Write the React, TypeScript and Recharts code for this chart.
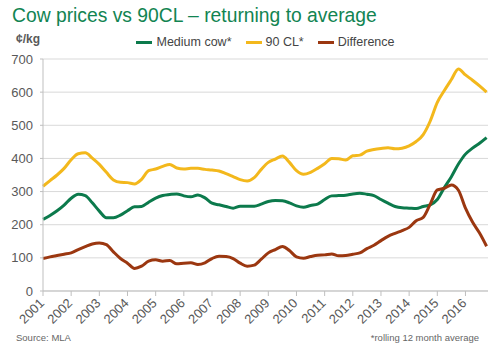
import { Legend, Line, LineChart, XAxis, YAxis, CartesianGrid } from "recharts";

// quarterly points (rolling 12 month averages, ¢/kg)
const periods = [
  2001, 2001.25, 2001.5, 2001.75, 2002, 2002.25, 2002.5, 2002.75,
  2003, 2003.25, 2003.5, 2003.75, 2004, 2004.25, 2004.5, 2004.75,
  2005, 2005.25, 2005.5, 2005.75, 2006, 2006.25, 2006.5, 2006.75,
  2007, 2007.25, 2007.5, 2007.75, 2008, 2008.25, 2008.5, 2008.75,
  2009, 2009.25, 2009.5, 2009.75, 2010, 2010.25, 2010.5, 2010.75,
  2011, 2011.25, 2011.5, 2011.75, 2012, 2012.25, 2012.5, 2012.75,
  2013, 2013.25, 2013.5, 2013.75, 2014, 2014.25, 2014.5, 2014.75,
  2015, 2015.25, 2015.5, 2015.75, 2016, 2016.25, 2016.5, 2016.75,
];

const mediumCow = [
  216, 228, 242, 259, 280, 292, 288, 266,
  241, 221, 221, 229, 242, 254, 255, 268,
  280, 288, 291, 293, 287, 284, 290, 281,
  265, 260, 255, 250, 256, 256, 256, 262,
  270, 273, 272, 266, 257, 253, 258, 262,
  276, 287, 288, 289, 293, 295, 292, 288,
  276, 265, 255, 251, 250, 249, 255, 260,
  276, 312, 345, 383, 413, 431, 446, 463,
];

const cl90 = [
  316, 333, 350, 370, 396, 414, 417, 401,
  382, 358, 335, 328, 327, 323, 337, 363,
  368, 376, 382, 371, 368, 370, 370, 367,
  365, 362, 354, 345, 336, 332, 342, 367,
  388, 398, 407, 388, 363, 352, 358, 370,
  384, 400, 399, 395, 408, 410, 422, 427,
  430, 432, 429, 431, 438, 451, 472, 513,
  569, 605, 638, 670, 652, 636, 619, 600,
];

const difference = [
  98, 103, 107, 111, 115, 125, 134, 142,
  145, 140, 118, 98, 84, 68, 75, 90,
  94, 90, 92, 82, 84, 85, 80, 85,
  98, 105, 104, 98, 84, 75, 78, 96,
  115, 125, 134, 122, 103, 99, 104, 108,
  109, 112, 106, 107, 111, 115, 128, 138,
  152, 165, 174, 182, 192, 212, 222, 262,
  305, 310, 320, 304, 250, 208, 175, 135,
];

const seriesNames = ["Medium cow*", "90 CL*", "Difference"];

const yearTicks = [
  2001, 2002, 2003, 2004, 2005, 2006, 2007, 2008,
  2009, 2010, 2011, 2012, 2013, 2014, 2015, 2016,
];
const priceTicks = [0, 100, 200, 300, 400, 500, 600, 700];

const rows = periods.map((t, i) => ({
  t,
  cow: mediumCow[i],
  cl: cl90[i],
  diff: difference[i],
}));

const GREEN = "#0c7a4c";
const YELLOW = "#f3b81c";
const BROWN = "#9b3710";
const TEXT = "#595959";
const FONT = "'Liberation Sans', Arial, sans-serif";

const YearTick = ({ x, y, payload }: any) => (
  <g transform={`translate(${x},${y})`}>
    <text
      x={0}
      y={0}
      textAnchor="end"
      fontSize={13}
      fill={TEXT}
      fontFamily={FONT}
      transform="translate(2,6) rotate(-45)"
    >
      {payload.value}
    </text>
  </g>
);

const LegendRow = ({ payload }: any) => {
  const items = [...(payload || [])].sort(
    (a: any, b: any) => seriesNames.indexOf(a.value) - seriesNames.indexOf(b.value)
  );
  return (
    <div style={{ display: "flex", justifyContent: "center", fontFamily: FONT, fontSize: 12.5, color: "#444" }}>
      {items.map((p: any) => (
        <div key={p.value} style={{ display: "flex", alignItems: "center", margin: "0 7px" }}>
          <span style={{ display: "inline-block", width: 16, height: 3, background: p.color, marginRight: 4 }} />
          <span>{p.value}</span>
        </div>
      ))}
    </div>
  );
};

export default function App() {
  return (
    <div style={{ position: "absolute", left: 0, top: 0, width: 500, height: 350, background: "#fff", fontFamily: FONT }}>
      <div style={{ position: "absolute", left: 12, top: 5, fontSize: 19.3, color: "#128452", whiteSpace: "nowrap" }}>
        Cow prices vs 90CL – returning to average
      </div>
      <div style={{ position: "absolute", left: 16, top: 32, fontSize: 12, fontWeight: "bold", color: TEXT }}>¢/kg</div>
      <LineChart width={500} height={350} data={rows} margin={{ top: 45, right: 12, bottom: 14, left: 0 }}>
        <CartesianGrid vertical={false} stroke="#d9d9d9" />
        <XAxis
          dataKey="t"
          type="number"
          domain={[2001, 2016.8]}
          ticks={yearTicks}
          interval={0}
          height={45}
          tick={<YearTick />}
          tickSize={5}
          stroke="#bfbfbf"
        />
        <YAxis
          domain={[0, 700]}
          ticks={priceTicks}
          width={43}
          tickSize={3}
          tickMargin={7}
          stroke="#bfbfbf"
          tick={{ fill: TEXT, fontSize: 13, fontFamily: FONT }}
        />
        <Legend
          verticalAlign="top"
          content={<LegendRow />}
          wrapperStyle={{ top: 35, left: 43, width: 445 }}
        />
        <Line type="monotone" dataKey="cow" name={seriesNames[0]} stroke={GREEN} strokeWidth={3} dot={false} isAnimationActive={false} />
        <Line type="monotone" dataKey="cl" name={seriesNames[1]} stroke={YELLOW} strokeWidth={3} dot={false} isAnimationActive={false} />
        <Line type="monotone" dataKey="diff" name={seriesNames[2]} stroke={BROWN} strokeWidth={3} dot={false} isAnimationActive={false} />
      </LineChart>
      <div style={{ position: "absolute", left: 16, top: 332, fontSize: 9.5, color: "#666" }}>Source: MLA</div>
      <div style={{ position: "absolute", right: 21, top: 332, fontSize: 9.5, color: "#666" }}>*rolling 12 month average</div>
    </div>
  );
}
